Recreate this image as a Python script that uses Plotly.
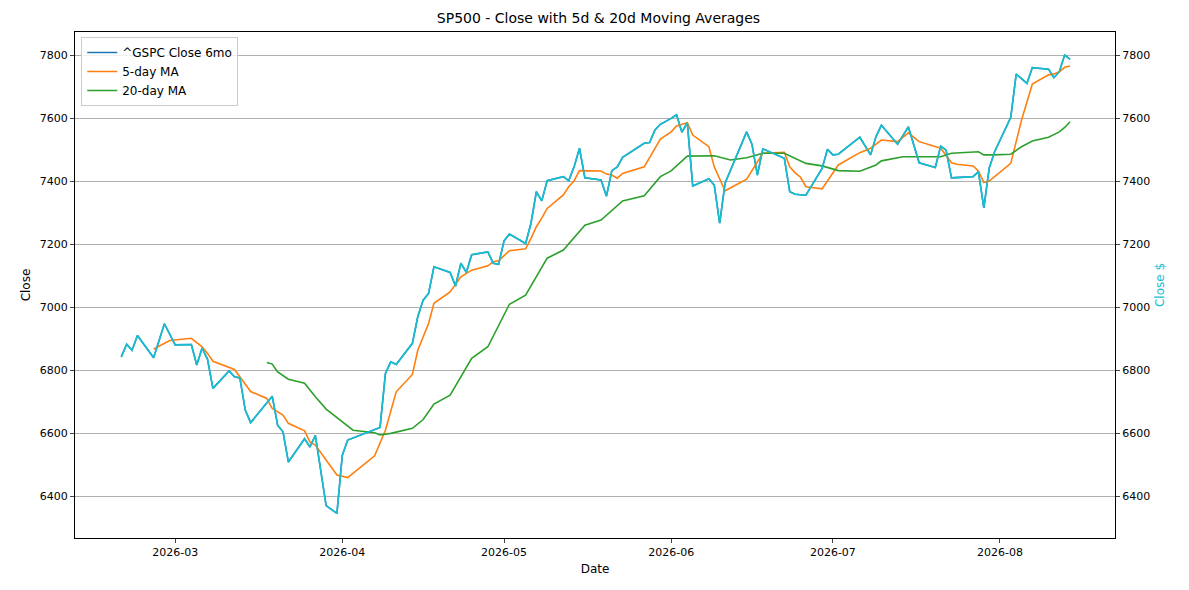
import plotly.graph_objects as go

close_dates = ["2026-02-19","2026-02-20","2026-02-21","2026-02-22","2026-02-25","2026-02-27","2026-03-01","2026-03-04","2026-03-05","2026-03-06","2026-03-07","2026-03-08","2026-03-11","2026-03-12","2026-03-13","2026-03-14","2026-03-15","2026-03-19","2026-03-20","2026-03-21","2026-03-22","2026-03-25","2026-03-26","2026-03-27","2026-03-29","2026-03-31","2026-04-01","2026-04-02","2026-04-08","2026-04-09","2026-04-10","2026-04-11","2026-04-14","2026-04-15","2026-04-16","2026-04-17","2026-04-18","2026-04-21","2026-04-22","2026-04-23","2026-04-24","2026-04-25","2026-04-28","2026-04-29","2026-04-30","2026-05-01","2026-05-02","2026-05-05","2026-05-06","2026-05-07","2026-05-08","2026-05-09","2026-05-12","2026-05-13","2026-05-14","2026-05-15","2026-05-16","2026-05-19","2026-05-20","2026-05-21","2026-05-22","2026-05-23","2026-05-27","2026-05-28","2026-05-29","2026-05-30","2026-06-01","2026-06-02","2026-06-03","2026-06-04","2026-06-05","2026-06-08","2026-06-09","2026-06-10","2026-06-11","2026-06-15","2026-06-16","2026-06-17","2026-06-18","2026-06-22","2026-06-23","2026-06-24","2026-06-26","2026-06-29","2026-06-30","2026-07-01","2026-07-02","2026-07-06","2026-07-08","2026-07-09","2026-07-10","2026-07-13","2026-07-15","2026-07-17","2026-07-20","2026-07-21","2026-07-22","2026-07-23","2026-07-27","2026-07-28","2026-07-29","2026-07-30","2026-07-31","2026-08-03","2026-08-04","2026-08-06","2026-08-07","2026-08-10","2026-08-11","2026-08-12","2026-08-13","2026-08-14"]
close_vals = [6842,6882,6863,6910,6839,6947,6880,6881,6816,6870,6834,6742,6797,6779,6775,6673,6633,6717,6625,6604,6508,6582,6556,6593,6370,6345,6530,6578,6618,6789,6826,6818,6885,6969,7022,7043,7128,7110,7067,7139,7110,7166,7175,7139,7136,7210,7232,7202,7266,7366,7337,7401,7414,7401,7445,7504,7410,7403,7352,7433,7445,7475,7520,7522,7562,7580,7599,7610,7555,7585,7384,7407,7387,7266,7393,7556,7516,7419,7502,7472,7366,7358,7355,7440,7501,7483,7485,7539,7483,7541,7577,7517,7572,7458,7443,7511,7498,7410,7414,7430,7315,7441,7493,7602,7739,7710,7760,7755,7728,7747,7800,7786]

ma5_dates = ["2026-02-25","2026-02-28","2026-03-04","2026-03-06","2026-03-07","2026-03-08","2026-03-12","2026-03-13","2026-03-14","2026-03-15","2026-03-18","2026-03-19","2026-03-21","2026-03-22","2026-03-25","2026-03-26","2026-03-27","2026-03-29","2026-03-31","2026-04-02","2026-04-07","2026-04-09","2026-04-11","2026-04-14","2026-04-15","2026-04-17","2026-04-18","2026-04-21","2026-04-23","2026-04-25","2026-04-28","2026-04-29","2026-04-30","2026-05-02","2026-05-05","2026-05-06","2026-05-07","2026-05-08","2026-05-09","2026-05-12","2026-05-13","2026-05-14","2026-05-15","2026-05-19","2026-05-20","2026-05-21","2026-05-22","2026-05-23","2026-05-27","2026-05-30","2026-06-01","2026-06-02","2026-06-04","2026-06-05","2026-06-08","2026-06-09","2026-06-11","2026-06-15","2026-06-17","2026-06-18","2026-06-22","2026-06-23","2026-06-24","2026-06-25","2026-06-26","2026-06-29","2026-07-02","2026-07-06","2026-07-08","2026-07-10","2026-07-13","2026-07-15","2026-07-17","2026-07-21","2026-07-23","2026-07-24","2026-07-27","2026-07-28","2026-07-29","2026-07-30","2026-08-03","2026-08-05","2026-08-07","2026-08-10","2026-08-11","2026-08-12","2026-08-13","2026-08-14"]
ma5_vals = [6867,6894,6901,6874,6853,6828,6802,6779,6754,6732,6710,6678,6657,6631,6607,6572,6562,6514,6467,6459,6528,6609,6731,6786,6863,6948,7012,7048,7096,7117,7131,7144,7147,7179,7185,7218,7255,7282,7313,7356,7382,7401,7433,7432,7422,7419,7409,7424,7445,7533,7556,7575,7585,7546,7509,7445,7369,7406,7461,7488,7491,7445,7426,7412,7382,7375,7451,7490,7504,7530,7525,7553,7525,7504,7458,7453,7448,7432,7395,7400,7456,7594,7708,7737,7740,7747,7761,7765]

ma20_dates = ["2026-03-18","2026-03-19","2026-03-20","2026-03-22","2026-03-25","2026-03-27","2026-03-29","2026-03-31","2026-04-03","2026-04-07","2026-04-08","2026-04-10","2026-04-14","2026-04-16","2026-04-18","2026-04-21","2026-04-25","2026-04-28","2026-05-02","2026-05-05","2026-05-09","2026-05-12","2026-05-16","2026-05-19","2026-05-23","2026-05-27","2026-05-30","2026-06-01","2026-06-04","2026-06-09","2026-06-12","2026-06-15","2026-06-18","2026-06-22","2026-06-26","2026-06-29","2026-07-02","2026-07-06","2026-07-08","2026-07-09","2026-07-10","2026-07-13","2026-07-14","2026-07-21","2026-07-23","2026-07-28","2026-07-29","2026-07-31","2026-08-03","2026-08-05","2026-08-07","2026-08-10","2026-08-12","2026-08-13","2026-08-14"]
ma20_vals = [6824,6819,6794,6771,6758,6715,6676,6650,6609,6601,6594,6599,6615,6643,6692,6720,6837,6874,7009,7038,7155,7181,7260,7276,7337,7353,7414,7432,7479,7480,7467,7474,7488,7488,7456,7448,7433,7431,7443,7451,7464,7472,7477,7477,7488,7493,7483,7483,7485,7509,7527,7539,7556,7570,7588]

yticks = [6400, 6600, 6800, 7000, 7200, 7400, 7600, 7800]
yrange = [6267, 7873]

fig = go.Figure()
fig.add_trace(go.Scatter(x=close_dates, y=close_vals, mode="lines", name="^GSPC Close 6mo",
                         line=dict(color="#1f77b4", width=1.6)))
fig.add_trace(go.Scatter(x=ma5_dates, y=ma5_vals, mode="lines", name="5-day MA",
                         line=dict(color="#ff7f0e", width=1.6)))
fig.add_trace(go.Scatter(x=ma20_dates, y=ma20_vals, mode="lines", name="20-day MA",
                         line=dict(color="#2ca02c", width=1.6)))
fig.add_trace(go.Scatter(x=close_dates, y=close_vals, mode="lines", name="Close $", yaxis="y2",
                         showlegend=False, line=dict(color="#17becf", width=1.6)))

font = dict(family="DejaVu Sans", size=12, color="black")
fig.update_layout(
    width=1181, height=582, margin=dict(l=67, r=74, t=24, b=52),
    paper_bgcolor="white", plot_bgcolor="white", font=font,
    title=dict(text="SP500 - Close with 5d & 20d Moving Averages", x=0.5, xanchor="center",
               y=1 - 10/582, yanchor="middle", font=dict(size=14, family="DejaVu Sans")),
    xaxis=dict(title=dict(text="Date", standoff=6, font=dict(size=12)), range=["2026-02-10 10:00", "2026-08-22 08:00"],
               tickformat="%Y-%m", dtick="M1", tick0="2026-03-01", ticks="outside", ticklen=4,
               showgrid=False, showline=True, linecolor="black", mirror=True, zeroline=False,
               tickfont=dict(size=11)),
    yaxis=dict(title=dict(text="Close", standoff=6, font=dict(size=12)), range=yrange, tickvals=yticks, ticks="outside",
               ticklen=4, showgrid=False, showline=True, linecolor="black", mirror=True,
               zeroline=False, tickfont=dict(size=11)),
    yaxis2=dict(title=dict(text="Close $", font=dict(color="#17becf", size=12), standoff=6), overlaying="y",
                side="right", range=yrange, tickvals=yticks, ticks="outside", ticklen=4,
                showgrid=True, gridcolor="#b0b0b0", gridwidth=1, zeroline=False,
                tickfont=dict(size=11)),
    legend=dict(x=0.006, y=0.99, xanchor="left", yanchor="top", bgcolor="rgba(255,255,255,0.8)",
                bordercolor="#cccccc", borderwidth=1, font=dict(size=12)),
)
fig.write_html("out.html")
